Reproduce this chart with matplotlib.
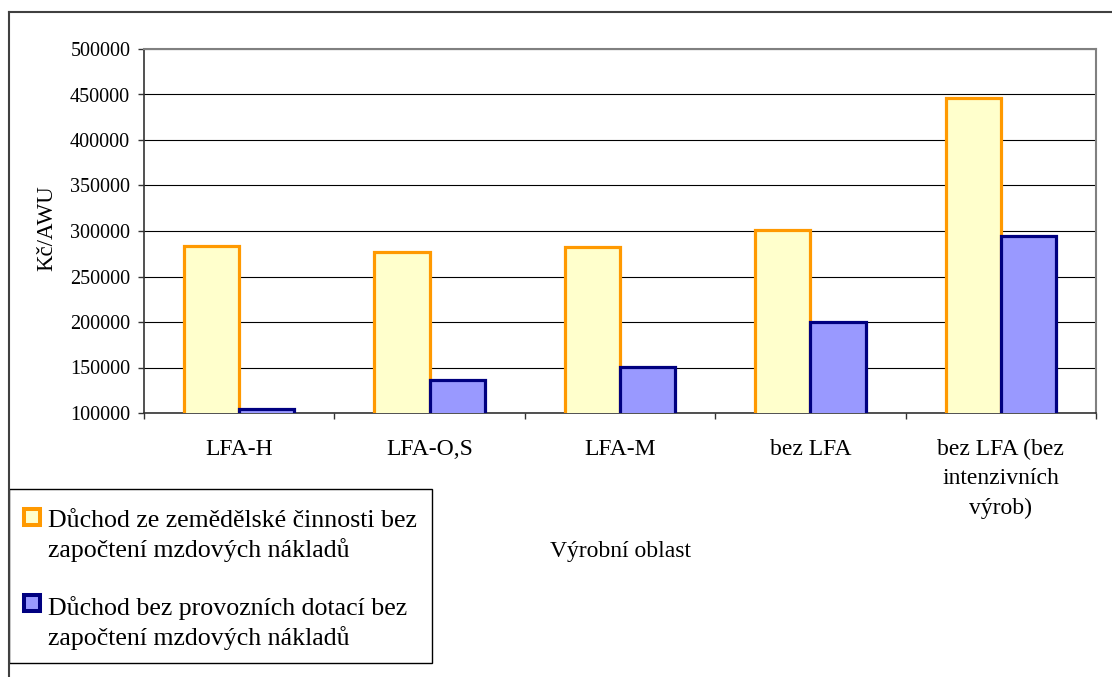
import numpy as np
import matplotlib.pyplot as plt
from matplotlib.patches import Rectangle
from matplotlib.lines import Line2D

plt.rcParams['font.family'] = ['Liberation Serif', 'DejaVu Serif']
plt.rcParams['font.size'] = 14

# data
categories = ['LFA-H', 'LFA-O,S', 'LFA-M', 'bez LFA',
              'bez LFA (bez\nintenzivních\nvýrob)']
income_total = [283000, 277000, 282000, 301000, 446000]
income_no_subsidy = [104000, 136000, 151000, 200000, 294000]
series_labels = ['Důchod ze zemědělské činnosti bez\nzapočtení mzdových nákladů',
                 'Důchod bez provozních dotací bez\nzapočtení mzdových nákladů']
y_ticks = [100000, 150000, 200000, 250000, 300000, 350000, 400000, 450000, 500000]

face_colors = ['#FFFFCC', '#9999FF']
edge_colors = ['#FF9900', '#000080']

W, H = 1112, 677
fig = plt.figure(figsize=(W / 100, H / 100), dpi=100)


def fx(px):
    return px / W


def fy(py):
    return 1 - py / H


ax = fig.add_axes([fx(144), fy(413), fx(1096) - fx(144), fy(49) - fy(413)])

x = np.arange(len(categories))
bw = 0.29
ax.bar(x - bw / 2, income_total, bw, color=face_colors[0],
       edgecolor=edge_colors[0], linewidth=2.3, zorder=3)
ax.bar(x + bw / 2, income_no_subsidy, bw, color=face_colors[1],
       edgecolor=edge_colors[1], linewidth=2.3, zorder=3)

ax.set_xlim(-0.5, len(categories) - 0.5)
ax.set_ylim(y_ticks[0], y_ticks[-1])
ax.set_yticks(y_ticks)
ax.set_yticklabels([str(v) for v in y_ticks], fontsize=14.5)
ax.yaxis.grid(True, color='black', linewidth=0.8)
ax.set_axisbelow(True)

# tick marks between groups, labels at group centres
ax.set_xticks(np.arange(len(categories) + 1) - 0.5)
ax.set_xticklabels([])
ax.set_xticks(x, minor=True)
ax.set_xticklabels(categories, minor=True, linespacing=1.53, fontsize=17)
ax.tick_params(axis='x', which='minor', length=0, pad=18.5)
ax.tick_params(axis='x', which='major', length=4.5, width=1, color='#333333')
ax.tick_params(axis='y', length=4.5, width=1, color='#333333', pad=5.4)

for side in ['top', 'right']:
    ax.spines[side].set_color('#808080')
    ax.spines[side].set_linewidth(1.5)
for side in ['left', 'bottom']:
    ax.spines[side].set_color('#333333')
    ax.spines[side].set_linewidth(1.2)

fig.text(fx(47), fy(228), 'Kč/AWU', rotation=90, ha='center', va='center',
         fontsize=16.5)
fig.text(fx(621), fy(552), 'Výrobní oblast', ha='center', va='center',
         fontsize=17)

# outer chart frame
fig.add_artist(Line2D([fx(9), 1], [fy(12), fy(12)], transform=fig.transFigure,
                      color='#404040', linewidth=1.5))
fig.add_artist(Line2D([fx(9), fx(9)], [fy(12), 0], transform=fig.transFigure,
                      color='#404040', linewidth=1.5))

# legend box
fig.add_artist(Rectangle((fx(9), fy(663)), fx(432) - fx(9), fy(489) - fy(663),
                         transform=fig.transFigure, fill=False,
                         edgecolor='black', linewidth=1))
marker_tops = [507, 593]
last_baselines = [557, 645]
for lab, fc, ec, top, base in zip(series_labels, face_colors, edge_colors,
                                  marker_tops, last_baselines):
    fig.add_artist(Rectangle((fx(24), fy(top + 18)), fx(16), 16 / H,
                             transform=fig.transFigure, facecolor=fc,
                             edgecolor=ec, linewidth=2.9))
    fig.text(fx(48), fy(base), lab, ha='left', va='baseline',
             linespacing=1.31, fontsize=18.6)

fig.savefig('out.png', dpi=100)
